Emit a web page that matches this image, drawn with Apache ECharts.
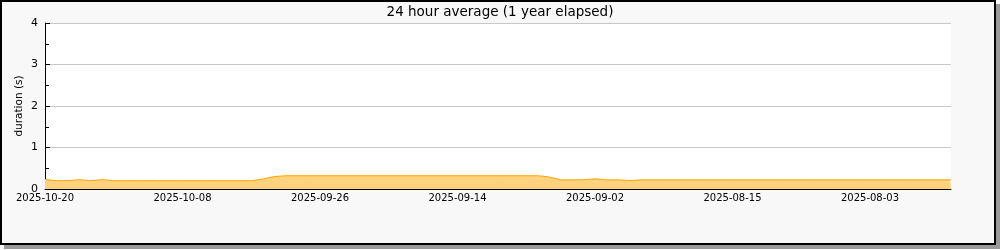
<!DOCTYPE html>
<html>
<head>
<meta charset="utf-8">
<script src="https://cdn.jsdelivr.net/npm/echarts@6/dist/echarts.min.js"></script>
<style>
html,body{margin:0;padding:0;background:#fff;}
#frame{position:absolute;left:0;top:0;width:996px;height:245px;box-sizing:border-box;border:2px solid #000;background:#f8f8f8;box-shadow:4px 4px 0 #9a9a9a;}
#chart{position:absolute;left:0;top:0;width:1000px;height:250px;}
</style>
</head>
<body>
<div id="frame"></div>
<div id="chart"></div>
<script>
// x = days counted from the left edge (2025-10-20), one value per day
const titleText = '24 hour average (1 year elapsed)';
const yAxisName = 'duration (s)';
const tickLabels = ['2025-10-20','2025-10-08','2025-09-26','2025-09-14','2025-09-02','2025-08-15','2025-08-03'];
const labelPositions = [0, 12, 24, 36, 48, 60, 72];
const tickPositions = [0, 6, 12, 18, 24, 30, 36, 42, 48, 54, 60, 66, 72, 78];
const durations = [
  0.23, 0.20, 0.20, 0.225, 0.20, 0.225, 0.20, 0.20, 0.20, 0.20,
  0.20, 0.20, 0.20, 0.20, 0.20, 0.20, 0.20, 0.20, 0.20, 0.24,
  0.30, 0.32, 0.32, 0.32, 0.32, 0.32, 0.32, 0.32, 0.32, 0.32,
  0.32, 0.32, 0.32, 0.32, 0.32, 0.32, 0.32, 0.32, 0.32, 0.32,
  0.32, 0.32, 0.32, 0.32, 0.29, 0.22, 0.22, 0.22, 0.245, 0.22,
  0.22, 0.205, 0.22, 0.22, 0.22, 0.22, 0.22, 0.22, 0.22, 0.22,
  0.22, 0.22, 0.22, 0.22, 0.22, 0.22, 0.22, 0.22, 0.22, 0.22,
  0.22, 0.22, 0.22, 0.22, 0.22, 0.22, 0.22, 0.22, 0.22, 0.22,
  0.22
];
const xMax = 79.07;

const seriesData = durations.map((v, i) => [Math.min(i, xMax), v]);
const font = 'DejaVu Sans';
const chart = echarts.init(document.getElementById('chart'), null, {renderer: 'canvas'});
chart.setOption({
  backgroundColor: 'transparent',
  animation: false,
  title: {
    text: titleText, left: 'center', top: 5, padding: 0,
    textStyle: {fontFamily: font, fontSize: 13.5, fontWeight: 'normal', color: '#000'}
  },
  grid: {left: 45, right: 49, top: 23, height: 166, show: true, backgroundColor: '#fff', borderWidth: 0},
  xAxis: {
    type: 'value', min: 0, max: xMax,
    axisLine: {show: true, lineStyle: {color: '#000', width: 1}},
    axisTick: {show: true, inside: true, length: 5, lineStyle: {color: '#000'}, customValues: tickPositions},
    axisLabel: {
      customValues: labelPositions,
      formatter: v => { const i = labelPositions.indexOf(Math.round(v)); return i >= 0 ? tickLabels[i] : ''; },
      fontFamily: font, fontSize: 10, color: '#000', margin: 4
    },
    splitLine: {show: false}
  },
  yAxis: {
    type: 'value', min: 0, max: 4, interval: 1,
    name: yAxisName, nameLocation: 'middle', nameGap: 20, nameMoveOverlap: false,
    nameTextStyle: {fontFamily: font, fontSize: 10.5, color: '#000'},
    axisLine: {show: true, lineStyle: {color: '#000', width: 1}},
    axisTick: {show: true, inside: true, length: 5, lineStyle: {color: '#000'}},
    minorTick: {show: true, splitNumber: 2, length: 4, lineStyle: {color: '#000'}},
    axisLabel: {fontFamily: font, fontSize: 11, color: '#000', margin: 7},
    splitLine: {show: true, lineStyle: {color: '#c8c8c8', width: 1}}
  },
  series: [{
    type: 'line', data: seriesData, showSymbol: false,
    lineStyle: {color: '#ffa500', width: 1},
    areaStyle: {color: '#ffd27f', opacity: 1},
    z: 1
  }]
});
</script>
</body>
</html>
